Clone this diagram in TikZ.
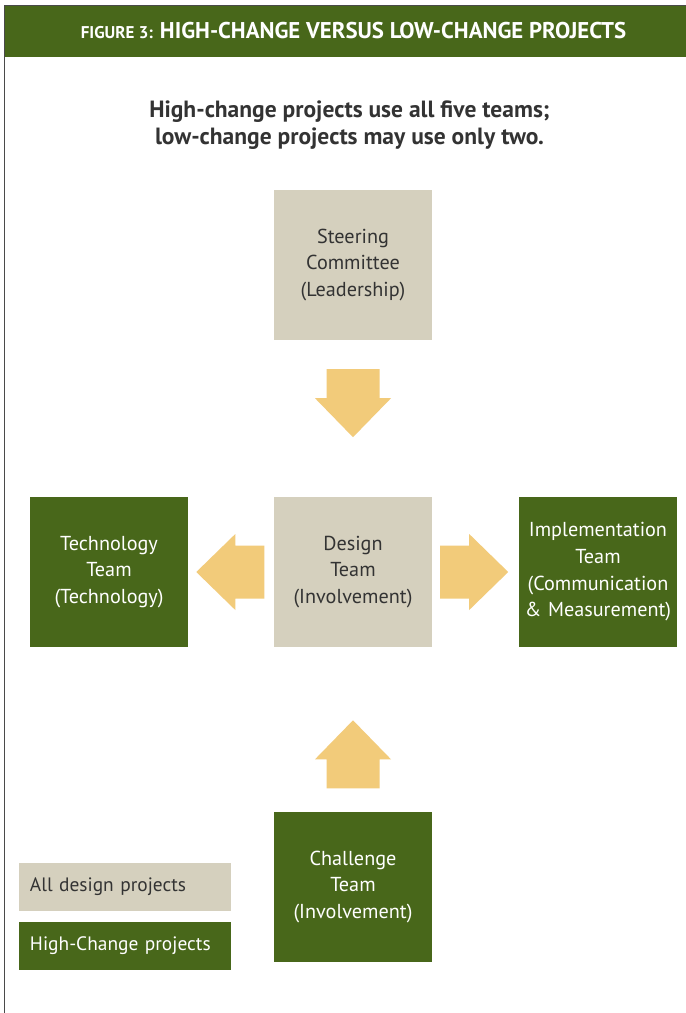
\documentclass[tikz,border=0pt]{standalone}
\usepackage{fontspec}
\setmainfont{PT Sans}
\usetikzlibrary{calc}
\definecolor{leaf}{HTML}{48671A}
\definecolor{sand}{HTML}{D5D0BE}
\definecolor{amber}{HTML}{F2CB7A}
\definecolor{ink}{HTML}{333333}
\definecolor{rule}{HTML}{4A4A4A}
\tikzset{
  teambox/.style={rectangle, inner sep=0pt, minimum width=158pt, minimum height=150pt,
    text width=156pt, align=center, font=\fontsize{20.2}{26.7}\selectfont},
  allbox/.style={teambox, fill=sand, text=ink},
  highbox/.style={teambox, fill=leaf, text=white},
  keybox/.style={rectangle, inner sep=0pt, minimum width=212pt, minimum height=48pt,
    text width=190pt, align=left, font=\fontsize{19.4}{22}\selectfont},
  blockarrow/.pic={
    \fill[amber] (-34,-26.5) -- (-5,-26.5) -- (-5,-38) -- (34,0) -- (-5,38)
      -- (-5,26.5) -- (-34,26.5) -- cycle;}
}
\begin{document}
\begin{tikzpicture}[x=1pt, y=-1pt]
  \useasboundingbox (0,0) rectangle (686,1013);
  \fill[white] (0,0) rectangle (686,1013);
  % frame and title band
  \fill[leaf] (5,6) rectangle (686,57);
  \draw[rule, line width=1.5pt] (4.5,1013) -- (4.5,5.5) -- (686,5.5);
  \node[text=white, anchor=center] (band) at (353.5,31)
    {\fontsize{17}{20}\selectfont\bfseries FIGURE 3:\hspace{7pt}\fontsize{22.8}{26}\selectfont HIGH-CHANGE VERSUS LOW-CHANGE PROJECTS};
  \node[text=ink, align=center, font=\fontsize{23.5}{27}\selectfont\bfseries] (lead) at (349.5,125.5)
    {High-change projects use all five teams;\\low-change projects may use only two.};
  % team boxes
  \node[allbox] (steer) at (353,265) {Steering\\Committee\\(Leadership)};
  \node[allbox] (design) at (353,572) {Design\\Team\\(Involvement)};
  \node[highbox] (tech) at (109,572) {Technology\\Team\\(Technology)};
  \node[highbox] (impl) at (598,572) {Implementation\\Team\\(Communication\\\&~Measurement)};
  \node[highbox] (chal) at (353,887) {Challenge\\Team\\(Involvement)};
  % block arrows between the boxes
  \coordinate (dn) at ($(steer.south)+(0,63)$);
  \coordinate (lf) at ($(design.west)+(-43.5,0)$);
  \coordinate (rt) at ($(design.east)+(42,0)$);
  \coordinate (up) at ($(chal.north)+(0,-57.5)$);
  \pic[rotate=-90] at (dn) {blockarrow};
  \pic[rotate=180] at (lf) {blockarrow};
  \pic at (rt) {blockarrow};
  \pic[rotate=90] at (up) {blockarrow};
  % key
  \node[keybox, fill=sand, text=ink] (keyall) at (125,887) {All design projects};
  \node[keybox, fill=leaf, text=white] (keyhigh) at (125,946) {High-Change projects};
\end{tikzpicture}
\end{document}
